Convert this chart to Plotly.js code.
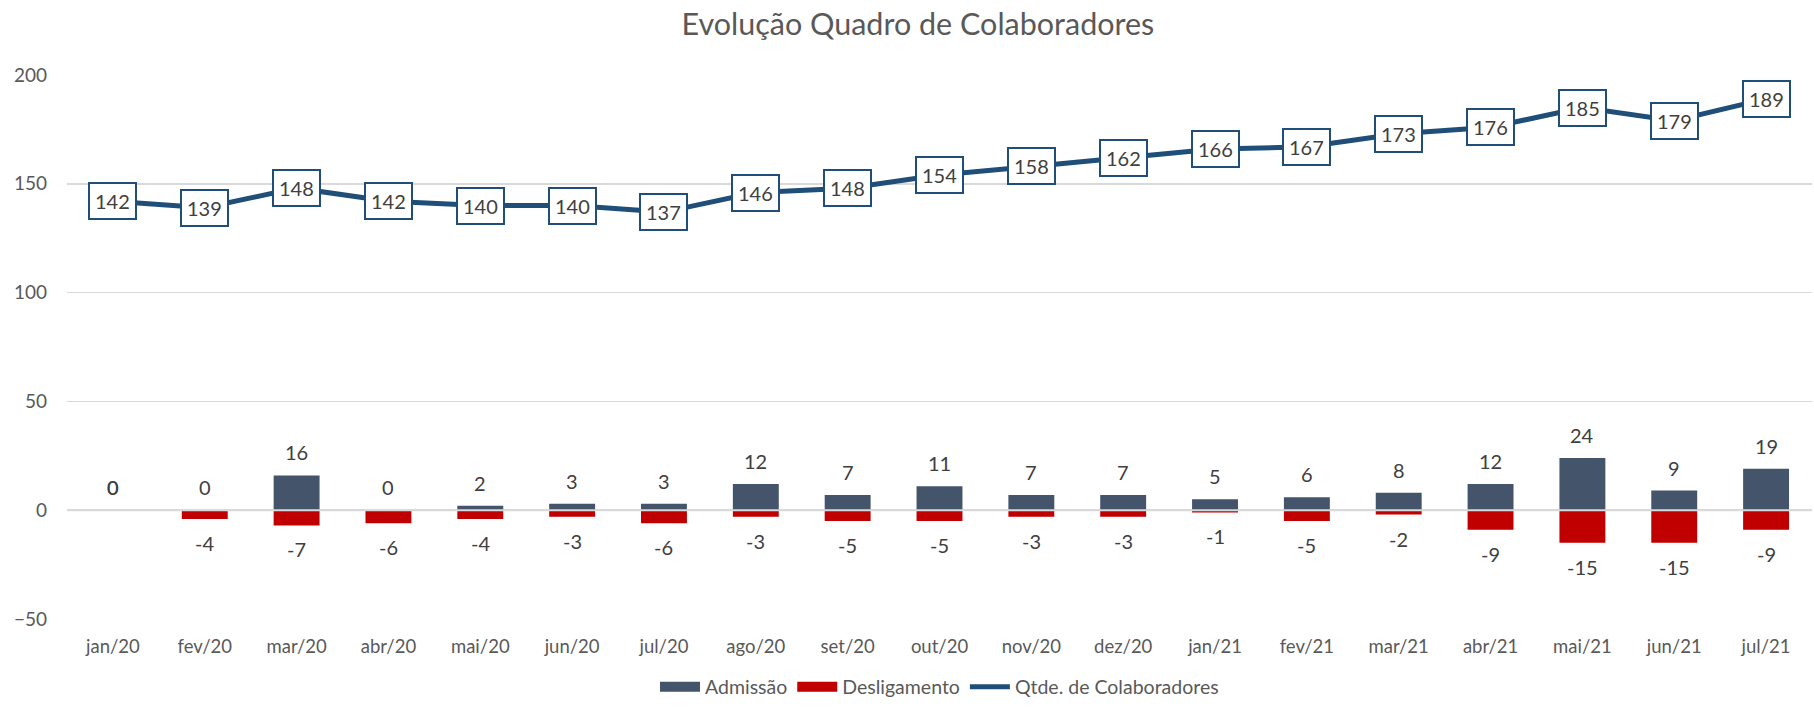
<!DOCTYPE html>
<html>
<head>
<meta charset="utf-8">
<script src="https://cdn.plot.ly/plotly-3.0.1.min.js"></script>
<style>html,body{margin:0;padding:0;background:#fff;}#chart{width:1814px;height:707px;}</style>
</head>
<body>
<div id="chart"></div>
<script>
var months = ["jan/20","fev/20","mar/20","abr/20","mai/20","jun/20","jul/20","ago/20","set/20","out/20","nov/20","dez/20","jan/21","fev/21","mar/21","abr/21","mai/21","jun/21","jul/21"];
var admissao = [0,0,16,0,2,3,3,12,7,11,7,7,5,6,8,12,24,9,19];
var desligamento = [0,-4,-7,-6,-4,-3,-6,-3,-5,-5,-3,-3,-1,-5,-2,-9,-15,-15,-9];
var colaboradores = [142,139,148,142,140,140,137,146,148,154,158,162,166,167,173,176,185,179,189];
var yTicks = [-50,0,50,100,150,200];

var FONT = "Lato, 'Open Sans', sans-serif";
var lineColor = "#1F4E79";
var admColor = "#44546A";
var desColor = "#C00000";
var labelFont = {family:FONT,size:20,color:"#404040"};

var traces = [
  {type:"bar", name:"Admissão", x:months, y:admissao, legendgroup:"adm", showlegend:false,
   marker:{color:admColor}, hoverinfo:"x+y"},
  {type:"bar", name:"Desligamento", x:months, y:desligamento, legendgroup:"des", showlegend:false,
   marker:{color:desColor}, hoverinfo:"x+y"},
  {type:"scatter", mode:"lines", name:"Qtde. de Colaboradores", x:months, y:colaboradores,
   line:{color:lineColor,width:5}, cliponaxis:false, hoverinfo:"x+y", showlegend:false},
  // legend entries (wide swatches, no data drawn)
  {type:"scatter", mode:"lines", name:"Admissão", x:[null], y:[null], legendgroup:"adm",
   line:{color:admColor,width:14}, hoverinfo:"skip"},
  {type:"scatter", mode:"lines", name:"Desligamento", x:[null], y:[null], legendgroup:"des",
   line:{color:desColor,width:14}, hoverinfo:"skip"},
  {type:"scatter", mode:"lines", name:"Qtde. de Colaboradores", x:[null], y:[null],
   line:{color:lineColor,width:5}, hoverinfo:"skip"}
];

var annotations = [];
months.forEach(function(m,i){
  annotations.push({x:m, y:colaboradores[i], xref:"x", yref:"y", text:String(colaboradores[i]),
    showarrow:false, bgcolor:"#ffffff", bordercolor:lineColor, borderwidth:2, borderpad:5,
    font:labelFont});
  annotations.push({x:m, y:admissao[i], xref:"x", yref:"y", text:String(admissao[i]),
    showarrow:false, yanchor:"bottom", yshift:9, font:labelFont});
  var d = desligamento[i];
  annotations.push({x:m, y:d, xref:"x", yref:"y", text:String(d),
    showarrow:false, yanchor:(d >= 0 ? "bottom" : "top"), yshift:(d >= 0 ? 9 : -10), font:labelFont});
});

var layout = {
  width:1814, height:707,
  margin:{l:67,r:2,t:75,b:88,autoexpand:false},
  paper_bgcolor:"#ffffff", plot_bgcolor:"#ffffff",
  font:{family:FONT,color:"#595959",size:18},
  title:{text:"Evolução Quadro de Colaboradores", x:0.506, xanchor:"center", y:0.965, yanchor:"middle",
         font:{family:FONT,size:30.5,color:"#595959"}},
  barmode:"relative", bargap:0.5,
  xaxis:{type:"category", showgrid:false, zeroline:false, showline:false, ticks:"",
         tickfont:{family:FONT,size:18.5,color:"#595959"}, ticklabelstandoff:14, fixedrange:true},
  yaxis:{range:[-50,200], tickvals:yTicks, showgrid:true, gridcolor:"#D9D9D9", gridwidth:1.5,
         zeroline:false, showline:false, ticks:"",
         tickfont:{family:FONT,size:19,color:"#595959"}, ticklabelstandoff:19, fixedrange:true},
  showlegend:true,
  legend:{orientation:"h", x:0.5, xanchor:"center", y:-0.161, yanchor:"bottom",
          font:{family:FONT,size:19.5,color:"#595959"}, traceorder:"normal", itemwidth:40},
  shapes:[{type:"line", xref:"paper", x0:0, x1:1, yref:"y", y0:0, y1:0, layer:"above",
           line:{color:"#D9D9D9", width:2}}],
  annotations:annotations
};

Plotly.newPlot("chart", traces, layout, {displayModeBar:false, staticPlot:true});
</script>
</body>
</html>
